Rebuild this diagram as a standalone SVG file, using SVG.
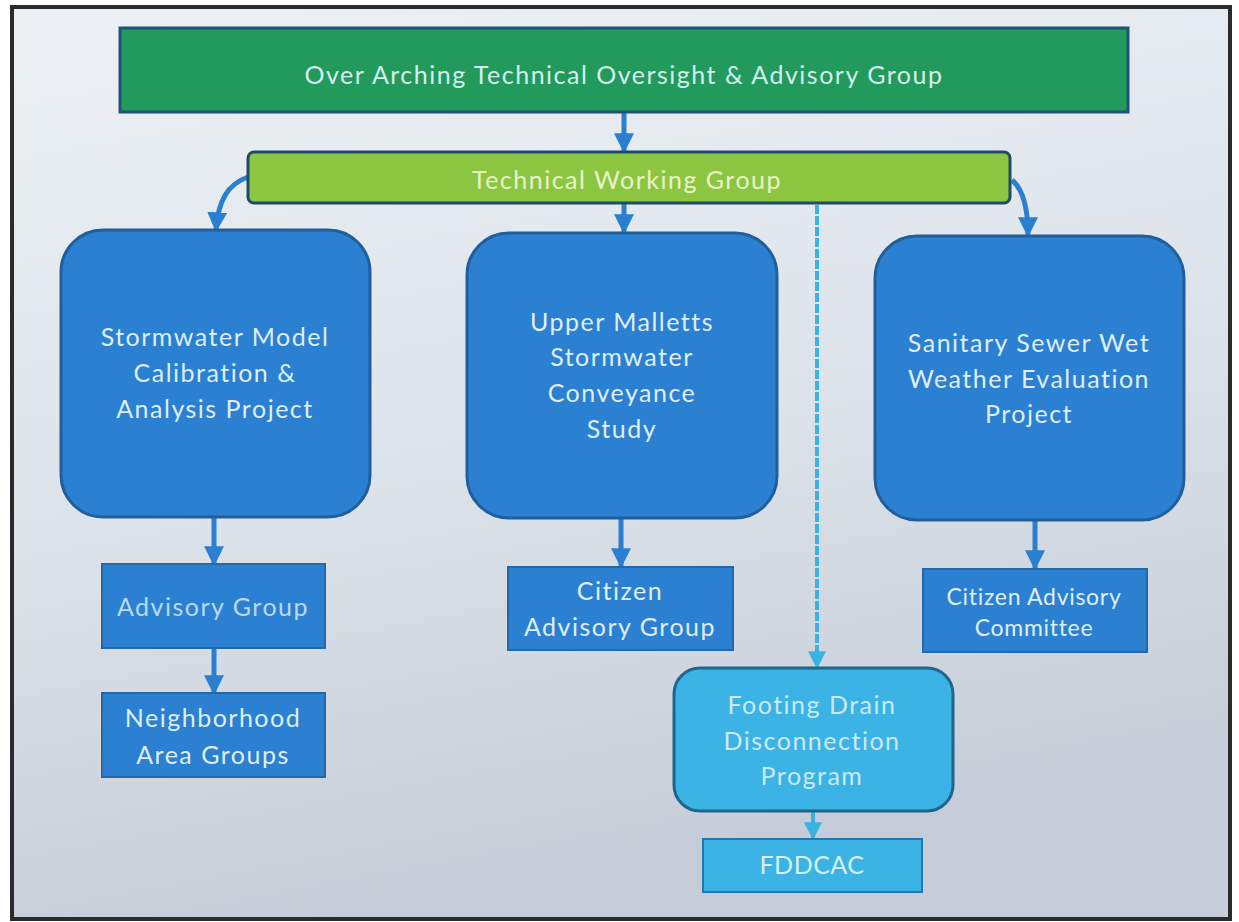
<svg xmlns="http://www.w3.org/2000/svg" width="1239" height="922" viewBox="0 0 1239 922">
  <defs>
    <linearGradient id="bg" x1="0" y1="0" x2="0.25" y2="1">
      <stop offset="0" stop-color="#edf1f5"/>
      <stop offset="0.55" stop-color="#dde3ea"/>
      <stop offset="1" stop-color="#c6cdd8"/>
    </linearGradient>
    <marker id="head" viewBox="0 0 16 16" refX="15" refY="8" markerWidth="20" markerHeight="20" markerUnits="userSpaceOnUse" orient="auto">
      <path d="M0,0 L16,8 L0,16 z" fill="#2a7fcf"/>
    </marker>
    <marker id="headLight" viewBox="0 0 16 16" refX="15" refY="8" markerWidth="18" markerHeight="18" markerUnits="userSpaceOnUse" orient="auto">
      <path d="M0,0 L16,8 L0,16 z" fill="#3ab2e2"/>
    </marker>
    <style>
      text { font-family: Lato, "Open Sans", "Liberation Sans", sans-serif; text-anchor: middle; font-size: 25px; letter-spacing: 1.5px; }
      text.tight { font-size: 23px; letter-spacing: 0.7px; }
      text.code { letter-spacing: 0.5px; }
      .main { fill: #2b80d1; stroke: #205f9c; stroke-width: 3; }
      .sub { fill: #2b80d1; stroke: #2568a8; stroke-width: 2; }
      .lt { fill: #dfeefa; }
      .pale { fill: #cbeaf8; }
      .conn { stroke: #2a7fcf; stroke-width: 5; fill: none; marker-end: url(#head); }
      .connLight { stroke: #3ab2e2; stroke-width: 4; fill: none; marker-end: url(#headLight); }
    </style>
  </defs>

  <!-- page background and frame -->
  <rect x="12" y="7" width="1218" height="912" fill="url(#bg)" stroke="#2b2b2b" stroke-width="4"/>

  <!-- connectors -->
  <g id="connectors">
    <line class="conn" x1="624" y1="113" x2="624" y2="152"/>
    <path class="conn" d="M248,177 C228,184 218,200 216,231"/>
    <line class="conn" x1="624" y1="204" x2="624" y2="233"/>
    <path class="conn" d="M1012,180 C1024,190 1028,210 1028,236"/>
    <line class="connLight" x1="817" y1="205" x2="817" y2="668" stroke-dasharray="9 2"/>
    <line class="conn" x1="214" y1="518" x2="214" y2="565"/>
    <line class="conn" x1="214" y1="648" x2="214" y2="694"/>
    <line class="conn" x1="621" y1="519" x2="621" y2="567"/>
    <line class="conn" x1="1035" y1="521" x2="1035" y2="569"/>
    <line class="connLight" x1="813" y1="812" x2="813" y2="839"/>
  </g>

  <g id="oversight">
    <rect x="120" y="28" width="1008" height="84" fill="#229a5b" stroke="#1f5478" stroke-width="3"/>
    <text x="624" y="84" fill="#d4eef0">Over Arching Technical Oversight &amp; Advisory Group</text>
  </g>

  <g id="working-group">
    <rect x="248" y="152" width="762" height="51" rx="6" fill="#8cc640" stroke="#1e4b68" stroke-width="3"/>
    <text x="627" y="189" fill="#e8f2cc">Technical Working Group</text>
  </g>

  <g id="stormwater-model">
    <rect class="main" x="61" y="230" width="309" height="287" rx="42"/>
    <text class="lt" x="215" y="346">Stormwater Model</text>
    <text class="lt" x="215" y="382">Calibration &amp;</text>
    <text class="lt" x="215" y="418">Analysis Project</text>
  </g>

  <g id="upper-malletts">
    <rect class="main" x="467" y="233" width="310" height="285" rx="42"/>
    <text class="lt" x="622" y="331">Upper Malletts</text>
    <text class="lt" x="622" y="366">Stormwater</text>
    <text class="lt" x="622" y="402">Conveyance</text>
    <text class="lt" x="622" y="438">Study</text>
  </g>

  <g id="sanitary-sewer">
    <rect class="main" x="875" y="236" width="309" height="284" rx="42"/>
    <text class="lt" x="1029" y="352">Sanitary Sewer Wet</text>
    <text class="lt" x="1029" y="388">Weather Evaluation</text>
    <text class="lt" x="1029" y="423">Project</text>
  </g>

  <g id="advisory-group">
    <rect class="sub" x="102" y="564" width="223" height="84"/>
    <text x="213" y="616" fill="#b9d9f4">Advisory Group</text>
  </g>

  <g id="neighborhood">
    <rect class="sub" x="102" y="693" width="223" height="84"/>
    <text class="lt" x="213" y="727">Neighborhood</text>
    <text class="lt" x="213" y="764">Area Groups</text>
  </g>

  <g id="citizen-advisory-group">
    <rect class="sub" x="508" y="567" width="225" height="83"/>
    <text class="lt" x="620" y="600">Citizen</text>
    <text class="lt" x="620" y="636">Advisory Group</text>
  </g>

  <g id="citizen-advisory-committee">
    <rect class="sub" x="923" y="569" width="224" height="83"/>
    <text class="lt tight" x="1034" y="605">Citizen Advisory</text>
    <text class="lt tight" x="1034" y="636">Committee</text>
  </g>

  <g id="footing-drain">
    <rect x="674" y="668" width="279" height="143" rx="26" fill="#3bb3e5" stroke="#1f6590" stroke-width="3"/>
    <text class="pale" x="812" y="714">Footing Drain</text>
    <text class="pale" x="812" y="750">Disconnection</text>
    <text class="pale" x="812" y="785">Program</text>
  </g>

  <g id="fddcac">
    <rect x="703" y="839" width="219" height="53" fill="#3bb3e5" stroke="#2277b0" stroke-width="2"/>
    <text class="code" x="812" y="874" fill="#d8f0fb">FDDCAC</text>
  </g>
</svg>
